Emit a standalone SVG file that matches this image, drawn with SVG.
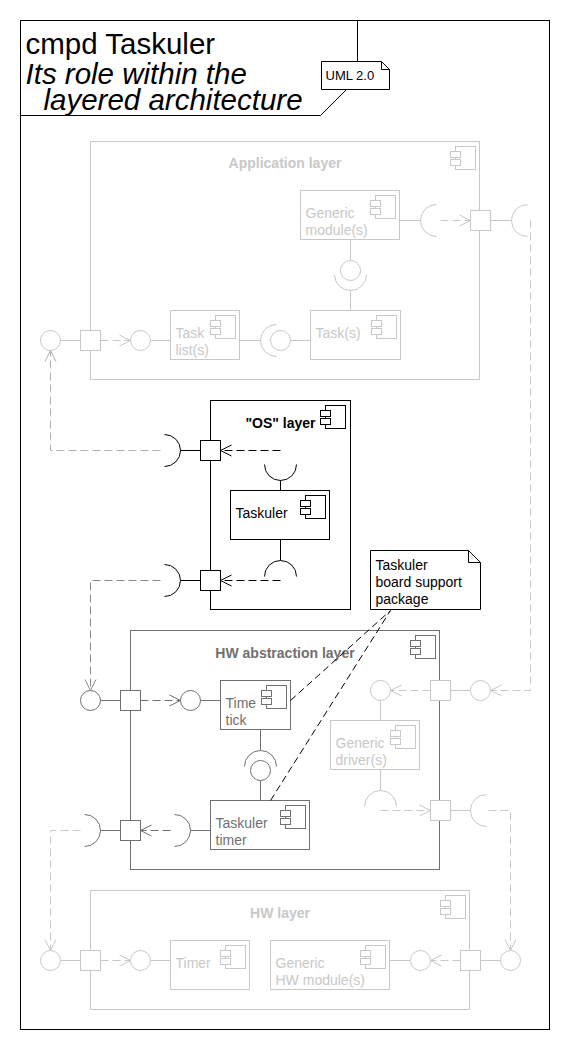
<svg xmlns="http://www.w3.org/2000/svg" width="570" height="1050" viewBox="0 0 570 1050">
<style>
text{font-family:"Liberation Sans",Arial,Helvetica,sans-serif;font-size:14px}
.ttl{font-weight:bold;text-anchor:middle}
.big{font-size:29.5px;fill:#000}
.lt{stroke:#c8c8c8}.ltx{fill:#c8c8c8}
.dk{stroke:#707070}.dkx{fill:#707070}
.bk{stroke:#000}.bkx{fill:#000}
.box{fill:#fff}
.frm{fill:none}
.ds{fill:none;stroke-dasharray:8 4}
.nd{fill:none;stroke:#000;stroke-dasharray:7 4}
</style>
<defs>
<g id="ic"><rect x="5" y="0" width="20" height="23" fill="#fff"/><rect x="0" y="5" width="10" height="6" fill="#fff"/><rect x="0" y="13" width="10" height="6" fill="#fff"/></g>
<marker id="aK" markerUnits="userSpaceOnUse" markerWidth="14" markerHeight="14" viewBox="-12 -7 14 14" refX="0" refY="0" orient="auto"><path d="M-11,-5.5 L0,0 L-11,5.5" fill="none" stroke="#000"/></marker>
<marker id="aD" markerUnits="userSpaceOnUse" markerWidth="14" markerHeight="14" viewBox="-12 -7 14 14" refX="0" refY="0" orient="auto"><path d="M-11,-5.5 L0,0 L-11,5.5" fill="none" stroke="#707070"/></marker>
<marker id="aL" markerUnits="userSpaceOnUse" markerWidth="14" markerHeight="14" viewBox="-12 -7 14 14" refX="0" refY="0" orient="auto"><path d="M-11,-5.5 L0,0 L-11,5.5" fill="none" stroke="#c8c8c8"/></marker>
<marker id="aM" markerUnits="userSpaceOnUse" markerWidth="14" markerHeight="14" viewBox="-12 -7 14 14" refX="0" refY="0" orient="auto"><path d="M-11,-5.5 L0,0 L-11,5.5" fill="none" stroke="#b0b0b0"/></marker>
<marker id="aN" markerUnits="userSpaceOnUse" markerWidth="14" markerHeight="14" viewBox="-12 -7 14 14" refX="0" refY="0" orient="auto"><path d="M-11,-5.5 L0,0 L-11,5.5" fill="none" stroke="#8a8a8a"/></marker>
</defs>
<rect width="570" height="1050" fill="#fff"/>
<g transform="translate(0.5,0.5)">

<g id="frame">
<rect x="20" y="20" width="529" height="1009" fill="none" stroke="#000"/>
<path d="M20,115 H320 L357,78 V20" fill="none" stroke="#000"/>
<text class="big"><tspan x="25" y="53">cmpd Taskuler</tspan><tspan x="25" y="83" font-style="italic">Its role within the</tspan><tspan x="43" y="109" font-style="italic">layered architecture</tspan></text>
</g>

<g id="uml-note">
<path d="M321,61 H381 L389,69 V89 H321 Z" fill="#fff" stroke="#000"/>
<path d="M381,61 V69 H389" fill="none" stroke="#000"/>
<text x="325" y="79" style="font-size:13px">UML 2.0</text>
</g>

<g id="application-layer">
<rect class="frm lt" x="90" y="141" width="389" height="238"/>
<text class="ttl ltx" x="284.5" y="167">Application layer</text>
<use href="#ic" class="lt" x="450" y="146"/>
</g>
<g id="generic-modules">
<rect class="box lt" x="300" y="190" width="99" height="49"/>
<text class="ltx" x="305" y="217">Generic</text><text class="ltx" x="305" y="234">module(s)</text>
<use href="#ic" class="lt" x="370" y="195"/>
</g>
<g id="tasks">
<rect class="box lt" x="310" y="310" width="90" height="49"/>
<text class="ltx" x="315" y="337">Task(s)</text>
<use href="#ic" class="lt" x="371" y="315"/>
</g>
<g id="task-lists">
<rect class="box lt" x="170" y="310" width="69" height="49"/>
<text class="ltx" x="175" y="337">Task</text><text class="ltx" x="175" y="354">list(s)</text>
<use href="#ic" class="lt" x="210" y="315"/>
</g>

<g id="os-layer">
<rect class="frm bk" x="210" y="400" width="140" height="209"/>
<text class="ttl bkx" x="280" y="427">"OS" layer</text>
<use href="#ic" class="bk" x="320" y="405"/>
</g>
<g id="taskuler">
<rect class="box bk" x="230" y="490" width="99" height="49"/>
<text class="bkx" x="235" y="517">Taskuler</text>
<use href="#ic" class="bk" x="300" y="495"/>
</g>

<g id="hw-abstraction-layer">
<rect class="frm dk" x="130" y="630" width="309" height="239"/>
<text class="ttl dkx" x="284.5" y="657">HW abstraction layer</text>
<use href="#ic" class="dk" x="410" y="635"/>
</g>
<g id="time-tick">
<rect class="box dk" x="220" y="680" width="70" height="49"/>
<text class="dkx" x="225" y="707">Time</text><text class="dkx" x="225" y="724">tick</text>
<use href="#ic" class="dk" x="261" y="685"/>
</g>
<g id="taskuler-timer">
<rect class="box dk" x="210" y="800" width="99" height="49"/>
<text class="dkx" x="215" y="827">Taskuler</text><text class="dkx" x="215" y="844">timer</text>
<use href="#ic" class="dk" x="280" y="805"/>
</g>
<g id="generic-drivers">
<rect class="box lt" x="330" y="720" width="89" height="49"/>
<text class="ltx" x="335" y="747">Generic</text><text class="ltx" x="335" y="764">driver(s)</text>
<use href="#ic" class="lt" x="390" y="725"/>
</g>

<g id="hw-layer">
<rect class="frm lt" x="90" y="890" width="379" height="119"/>
<text class="ttl ltx" x="279.5" y="917">HW layer</text>
<use href="#ic" class="lt" x="440" y="895"/>
</g>
<g id="timer">
<rect class="box lt" x="170" y="940" width="79" height="49"/>
<text class="ltx" x="175" y="967">Timer</text>
<use href="#ic" class="lt" x="220" y="945"/>
</g>
<g id="generic-hw-modules">
<rect class="box lt" x="270" y="940" width="119" height="49"/>
<text class="ltx" x="275" y="967">Generic</text><text class="ltx" x="275" y="984">HW module(s)</text>
<use href="#ic" class="lt" x="360" y="945"/>
</g>

<g id="bsp-note">
<path d="M370,550 H468 L480,562 V609 H370 Z" fill="#fff" stroke="#000"/>
<path d="M468,550 V562 H480" fill="none" stroke="#000"/>
<text x="375" y="569">Taskuler</text>
<text x="375" y="586">board support</text>
<text x="375" y="603">package</text>
</g>

<g id="connectors">
<g class="lt" fill="none">
<circle cx="50" cy="340" r="10" fill="#fff"/>
<path d="M60,340 H80"/>
<rect x="80" y="330" width="20" height="20" fill="#fff"/>
<circle cx="140" cy="340" r="10" fill="#fff"/>
<path d="M150,340 H170"/>
<path d="M239,340 H260"/>
<path d="M276,324 A16,16 0 0,0 276,356"/>
<circle cx="280" cy="340" r="10" fill="#fff"/>
<path d="M290,340 H310"/>
<path d="M350,239 V260"/>
<circle cx="350" cy="270" r="10" fill="#fff"/>
<path d="M334,274 A16,16 0 0,0 366,274"/>
<path d="M350,290 V310"/>
<path d="M399,220 H420"/>
<path d="M436,204 A16,16 0 0,0 436,236"/>
<rect x="470" y="210" width="20" height="20" fill="#fff"/>
<path d="M490,220 H511"/>
<path d="M527,204 A16,16 0 0,0 527,236"/>
</g>
<path class="ds lt" d="M100,340 H130" marker-end="url(#aL)"/>
<path class="ds lt" d="M440,220 H470" marker-end="url(#aL)"/>
<path class="ds lt" d="M530,220 V690 H490" marker-end="url(#aL)"/>

<g class="bk" fill="none">
<rect x="200" y="440" width="20" height="20" fill="#fff"/>
<rect x="200" y="570" width="20" height="20" fill="#fff"/>
<path d="M264,464 A16,16 0 0,0 296,464"/>
<path d="M280,480 V490"/>
<path d="M280,539 V560"/>
<path d="M264,576 A16,16 0 0,1 296,576"/>
<path d="M164,434 A16,16 0 0,1 164,466"/>
<path d="M180,450 H200"/>
<path d="M164,564 A16,16 0 0,1 164,596"/>
<path d="M180,580 H200"/>
</g>
<path class="ds bk" d="M280,450 H220" marker-end="url(#aK)"/>
<path class="ds bk" d="M280,580 H220" marker-end="url(#aK)"/>
<path class="ds" stroke="#b0b0b0" d="M160,450 H50 V350" marker-end="url(#aM)"/>
<path class="ds" stroke="#8a8a8a" d="M160,580 H90 V690" marker-end="url(#aN)"/>

<g class="dk" fill="none">
<circle cx="90" cy="700" r="10" fill="#fff"/>
<path d="M100,700 H120"/>
<rect x="120" y="690" width="20" height="20" fill="#fff"/>
<circle cx="190" cy="700" r="10" fill="#fff"/>
<path d="M200,700 H220"/>
<path d="M260,729 V750"/>
<path d="M244,766 A16,16 0 0,1 276,766"/>
<circle cx="260" cy="770" r="10" fill="#fff"/>
<path d="M260,780 V800"/>
<path d="M174,814 A16,16 0 0,1 174,846"/>
<path d="M190,830 H210"/>
<rect x="120" y="820" width="20" height="20" fill="#fff"/>
<path d="M84,814 A16,16 0 0,1 84,846"/>
<path d="M100,830 H120"/>
</g>
<path class="ds dk" d="M140,700 H180" marker-end="url(#aD)"/>
<path class="ds dk" d="M170,830 H140" marker-end="url(#aD)"/>
<path class="ds lt" d="M80,830 H50 V950" marker-end="url(#aL)"/>

<g class="lt" fill="none">
<rect x="430" y="680" width="20" height="20" fill="#fff"/>
<rect x="430" y="800" width="20" height="20" fill="#fff"/>
<circle cx="380" cy="690" r="10" fill="#fff"/>
<path d="M380,700 V720"/>
<path d="M380,769 V790"/>
<path d="M364,806 A16,16 0 0,1 396,806"/>
<path d="M450,690 H470"/>
<circle cx="480" cy="690" r="10" fill="#fff"/>
<path d="M450,810 H470"/>
<path d="M486,794 A16,16 0 0,0 486,826"/>
</g>
<path class="ds lt" d="M430,690 H390" marker-end="url(#aL)"/>
<path class="ds lt" d="M380,810 H430" marker-end="url(#aL)"/>
<path class="ds lt" d="M488,810 H510 V950" marker-end="url(#aL)"/>

<g class="lt" fill="none">
<circle cx="50" cy="960" r="10" fill="#fff"/>
<path d="M60,960 H80"/>
<rect x="80" y="950" width="20" height="20" fill="#fff"/>
<circle cx="140" cy="960" r="10" fill="#fff"/>
<path d="M150,960 H170"/>
<path d="M389,960 H410"/>
<circle cx="420" cy="960" r="10" fill="#fff"/>
<rect x="460" y="950" width="20" height="20" fill="#fff"/>
<path d="M480,960 H500"/>
<circle cx="510" cy="960" r="10" fill="#fff"/>
</g>
<path class="ds lt" d="M100,960 H130" marker-end="url(#aL)"/>
<path class="ds lt" d="M460,960 H430" marker-end="url(#aL)"/>

<path class="nd" d="M290,700 L390,610"/>
<path class="nd" d="M270,800 L390,610"/>
</g>
</g>
</svg>
